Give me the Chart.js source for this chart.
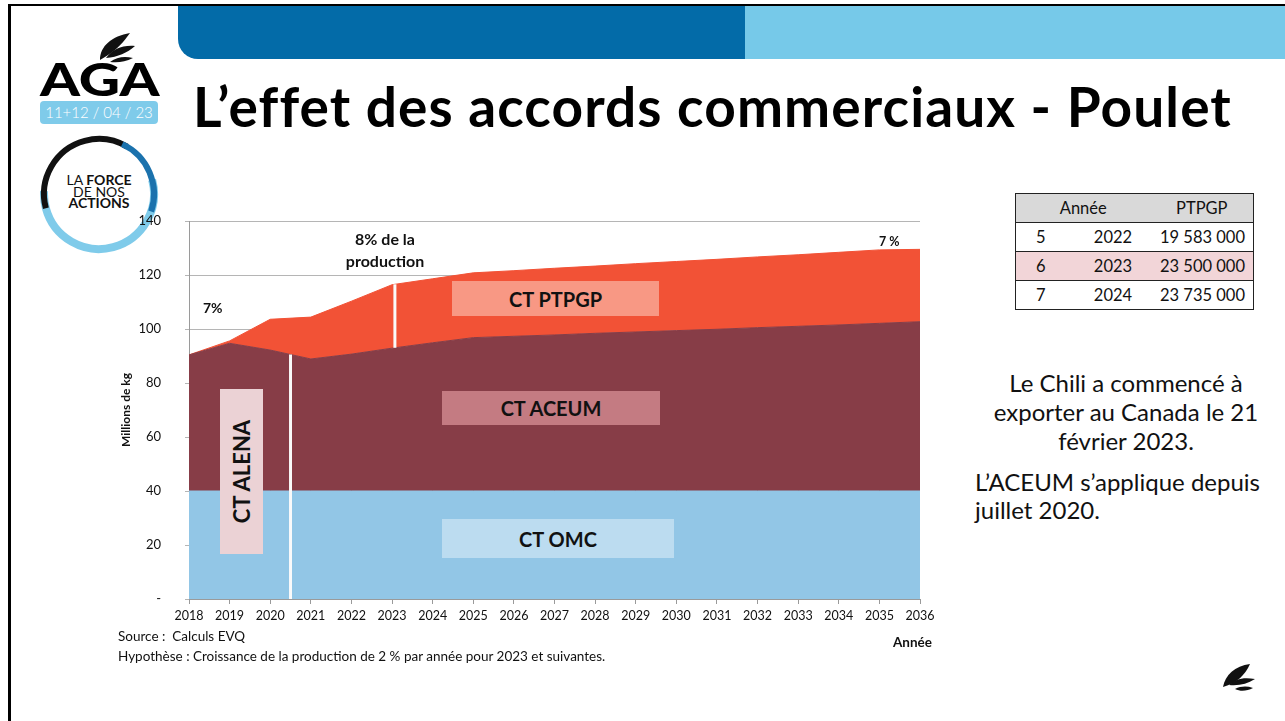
<!DOCTYPE html>
<html lang="fr">
<head>
<meta charset="utf-8">
<title>L’effet des accords commerciaux - Poulet</title>
<script src="https://cdn.jsdelivr.net/npm/chart.js@4.4.0/dist/chart.umd.min.js"></script>
<style>
    html, body { margin: 0; padding: 0; background: #fff; }
    body { width: 1285px; height: 721px; position: relative; overflow: hidden; font-family: Lato, "Open Sans", sans-serif; color: #000; }
    .abs { position: absolute; }
    #frame { left: 8px; top: 4px; width: 1290px; height: 730px; border-left: 3px solid #000; border-top: 2px solid #000; box-sizing: border-box; }
    #bannerDark { left: 178px; top: 6px; width: 567px; height: 53px; background: #036ba8; border-bottom-left-radius: 20px; }
    #bannerLight { left: 745px; top: 6px; width: 540px; height: 53px; background: #76c9e9; }
    #title { left: 193px; top: 79px; font-size: 55px; line-height: 1; font-weight: 700; letter-spacing: 1.1px; white-space: nowrap; }
    #aga { left: 40px; top: 56px; font-size: 46px; line-height: 1; font-weight: 900; transform: scaleX(1.24); transform-origin: left top; }
    #agaDate { left: 40px; top: 101px; width: 118px; height: 23px; background: #7fcbea; border-radius: 4px; color: #fff; font-size: 15px; line-height: 23px; text-align: center; font-weight: 300; }
    #force { left: 54px; top: 174px; width: 90px; text-align: center; font-size: 14px; line-height: 11.5px; color: #111; }
    #chart { left: 0; top: 0; z-index: 2; }
    .box { position: absolute; z-index: 3; display: flex; align-items: center; justify-content: center; font-weight: 700; font-size: 20px; color: #111; }
    .note { position: absolute; z-index: 3; font-weight: 700; color: #111; white-space: nowrap; }
    .foot { position: absolute; z-index: 3; font-size: 13.5px; color: #111; white-space: nowrap; }
    #side1 { left: 980px; top: 368px; width: 292px; text-align: center; font-size: 24px; line-height: 29px; color: #111; }
    #side2 { left: 975px; top: 468px; width: 300px; font-size: 24px; line-height: 28px; color: #111; }
    #ptTable { left: 1015px; top: 193px; border-collapse: collapse; font-size: 16.5px; color: #111; border: 1px solid #222; }
    #ptTable td { border: 1px solid #222; border-left: none; border-right: none; height: 28px; padding: 0; }
    #ptTable tr.head td { background: #d9d9d9; text-align: center; }
    #ptTable tr.hl td { background: #f2d5d8; }
</style>
</head>
<body>
<div id="frame" class="abs"></div>
<div id="bannerDark" class="abs"></div>
<div id="bannerLight" class="abs"></div>
<div id="title" class="abs">L’effet des accords commerciaux - Poulet</div>

<!-- logos -->
<svg class="abs" style="left:0;top:0" width="180" height="260">
    <g fill="#111">
        <path d="M100,60 C100,46 112,36 130,33 C124,41 118,50 100,60 Z"/>
        <path d="M106,58 C113,49 122,45 135,46 C127,53 118,57 106,58 Z"/>
        <path d="M110,62 C117,57 124,56 133,58 C125,62 118,63 110,62 Z"/>
    </g>
    <circle cx="99" cy="194" r="55" fill="none" stroke="#7fcbea" stroke-width="8"
            stroke-dasharray="190 400" transform="rotate(-15 99 194)"/>
    <circle cx="99" cy="194" r="55" fill="none" stroke="#111" stroke-width="6"
            stroke-dasharray="130 400" transform="rotate(165 99 194)"/>
    <circle cx="99" cy="194" r="55" fill="none" stroke="#1b72ad" stroke-width="6"
            stroke-dasharray="80 400" transform="rotate(295 99 194)"/>
</svg>
<div id="aga" class="abs">AGA</div>
<div id="agaDate" class="abs">11+12 / 04 / 23</div>
<div id="force" class="abs">LA <b>FORCE</b><br>DE NOS<br><b>ACTIONS</b></div>

<canvas id="chart" class="abs" width="1285" height="721"></canvas>

<!-- labels inside the chart -->
<div class="box" style="left:452px;top:281px;width:207px;height:35px;background:#f89884;">CT PTPGP</div>
<div class="box" style="left:442px;top:391px;width:218px;height:34px;background:#c47b82;">CT ACEUM</div>
<div class="box" style="left:442px;top:519px;width:232px;height:39px;background:#bcdcf0;">CT OMC</div>
<div class="box" style="left:220px;top:389px;width:43px;height:165px;background:#ebd2d5;">
    <span style="transform:rotate(-90deg);white-space:nowrap;font-size:22px;">CT ALENA</span>
</div>
<div class="note" style="left:203px;top:299px;font-size:14px;">7%</div>
<div class="note" style="left:320px;top:228px;width:130px;text-align:center;font-size:16px;line-height:22px;">8% de la<br>production</div>
<div class="note" style="left:879px;top:234px;font-size:12.5px;">7 %</div>

<div class="foot" style="left:893px;top:634px;font-weight:700;">Année</div>
<div class="foot" style="left:118px;top:628px;">Source :&nbsp; Calculs EVQ</div>
<div class="foot" style="left:118px;top:648px;">Hypothèse : Croissance de la production de 2 % par année pour 2023 et suivantes.</div>

<table id="ptTable" class="abs">
    <colgroup><col style="width:60px"><col style="width:75px"><col style="width:103px"></colgroup>
    <tbody id="ptBody"></tbody>
</table>

<div id="side1" class="abs">Le Chili a commencé à exporter au Canada le 21 février 2023.</div>
<div id="side2" class="abs">L’ACEUM s’applique depuis juillet 2020.</div>

<svg class="abs" style="left:1215px;top:655px" width="50" height="45">
    <g fill="#111">
        <path d="M8,32 C10,20 20,11 35,9 C30,20 22,28 8,32 Z"/>
        <path d="M14,30 C20,24 28,22 40,24 C32,29 24,31 14,30 Z"/>
        <path d="M20,34 C26,31 32,31 38,33 C32,36 26,37 20,34 Z"/>
    </g>
</svg>

<script>
// ====================================
// DATA
// ====================================

const years = ['2018', '2019', '2020', '2021', '2022', '2023', '2024', '2025', '2026', '2027',
               '2028', '2029', '2030', '2031', '2032', '2033', '2034', '2035', '2036'];

// Millions de kg, stacked
const ctOmc   = [40, 40, 40, 40, 40, 40, 40, 40, 40, 40, 40, 40, 40, 40, 40, 40, 40, 40, 40];
const ctAceum = [50.4, 54.7, 52.2, 48.9, 50.7, 52.9, 54.9, 56.8, 57.3, 57.8,
                 58.4, 58.9, 59.4, 59.9, 60.5, 61.0, 61.5, 62.1, 62.7];
const ctPtpgp = [0, 0.9, 11.4, 15.5, 19.6, 23.5, 23.7, 24.0, 24.3, 24.7,
                 24.9, 25.3, 25.6, 25.9, 26.2, 26.5, 26.9, 27.2, 26.8];

const yTicks = [0, 20, 40, 60, 80, 100, 120, 140];

// Entry dates marked by a white line (year, band below, band above)
const markerYears = [2020.5, 2023.07];
const markerFrom  = [null, 1];
const markerTo    = [1, 2];

const tableRows = [
    ['5', '2022', '19 583 000'],
    ['6', '2023', '23 500 000'],
    ['7', '2024', '23 735 000']
];

// ====================================
// TABLE
// ====================================

const tbody = document.getElementById('ptBody');
tbody.innerHTML = '<tr class="head"><td colspan="2">Année</td><td>PTPGP</td></tr>' +
    tableRows.map((r, i) => `
        <tr class="${i === 1 ? 'hl' : ''}">
            <td style="padding-left:20px;">${r[0]}</td>
            <td style="text-align:center;">${r[1]}</td>
            <td style="text-align:right;padding-right:8px;">${r[2]}</td>
        </tr>`).join('');

// ====================================
// CHART
// ====================================

// white vertical lines at trade agreement dates
const markerPlugin = {
    id: 'markers',
    afterDatasetsDraw(chart) {
        const ctx = chart.ctx;
        const x = chart.scales.x;
        const bandY = (dsIndex, pos) => {
            if (dsIndex === null) return chart.chartArea.bottom;
            const pts = chart.getDatasetMeta(dsIndex).data;
            const i = Math.floor(pos);
            const t = pos - i;
            return pts[i].y + t * (pts[i + 1].y - pts[i].y);
        };
        ctx.save();
        ctx.strokeStyle = '#fafafa';
        ctx.lineWidth = 3;
        markerYears.forEach((yr, k) => {
            const pos = yr - Number(years[0]);
            const px = x.getPixelForValue(pos);
            ctx.beginPath();
            ctx.moveTo(px, bandY(markerFrom[k], pos));
            ctx.lineTo(px, bandY(markerTo[k], pos));
            ctx.stroke();
        });
        ctx.restore();
    }
};

const band = (label, data, color, fill) => ({
    label: label,
    data: data,
    backgroundColor: color,
    borderColor: color,
    borderWidth: 1,
    pointRadius: 0,
    tension: 0,
    fill: fill
});

new Chart(document.getElementById('chart'), {
    type: 'line',
    data: {
        labels: years,
        datasets: [
            band('CT OMC', ctOmc, '#92c6e6', 'origin'),
            band('CT ACEUM', ctAceum, '#873d47', '-1'),
            band('CT PTPGP', ctPtpgp, '#f25236', '-1')
        ]
    },
    options: {
        responsive: false,
        devicePixelRatio: 1,
        animation: false,
        layout: { padding: { left: 115, top: 221, right: 365, bottom: 92 } },
        plugins: {
            legend: { display: false },
            tooltip: { enabled: false }
        },
        scales: {
            x: {
                type: 'category',
                offset: false,
                afterFit: s => { s.height = 30; },
                grid: { drawOnChartArea: false, drawTicks: true, tickLength: 5, color: '#9a9a9a' },
                border: { color: '#9a9a9a' },
                ticks: {
                    autoSkip: false,
                    maxRotation: 0,
                    padding: 4,
                    color: '#111',
                    font: { family: 'Lato', size: 12.5 }
                }
            },
            y: {
                stacked: true,
                min: 0,
                max: 140,
                afterFit: s => { s.width = 74; },
                afterBuildTicks: s => { s.ticks = yTicks.map(v => ({ value: v })); },
                grid: { color: '#b5b5b5', tickLength: 4 },
                border: { color: '#9a9a9a' },
                title: {
                    display: true,
                    text: 'Millions de kg',
                    color: '#111',
                    padding: { top: 4, bottom: 0 },
                    font: { family: 'Lato', size: 12, weight: 'bold' }
                },
                ticks: {
                    padding: 24,
                    color: '#111',
                    font: { family: 'Lato', size: 13 },
                    callback: v => v === 0 ? '-' : v
                }
            }
        }
    },
    plugins: [markerPlugin]
});
</script>
</body>
</html>
